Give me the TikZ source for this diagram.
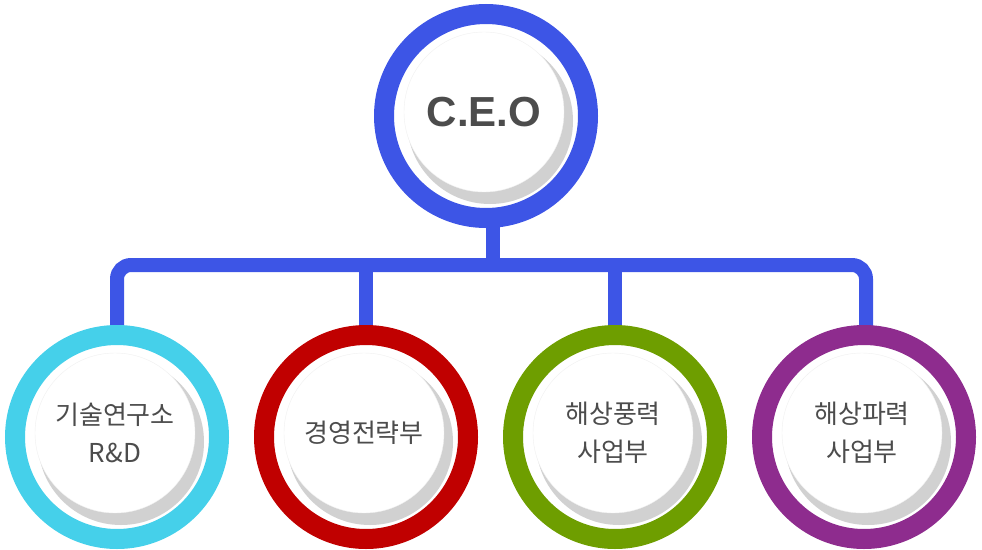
\documentclass[tikz,border=0pt]{standalone}
\usepackage{fontspec}
\setmainfont{Liberation Sans}
\newfontfamily\kr{Noto Sans CJK KR}
\tikzset{
 ring/.style={circle, line width=20pt, minimum size=204pt, fill=white, inner sep=0pt},
 shad/.style={circle, fill=black!18, minimum size=166pt, inner sep=0pt},
 inner/.style={circle, fill=white, draw=black!6, minimum size=160pt, inner sep=0pt, font=\kr\fontsize{26}{38}\selectfont, text=black!70, align=center},
 conn/.style={line width=14pt, draw=cblue, rounded corners=14pt}
}
\definecolor{cblue}{HTML}{3D55E6}
\definecolor{ccyan}{HTML}{45D0EA}
\definecolor{cred}{HTML}{C00000}
\definecolor{cgreen}{HTML}{6E9E00}
\definecolor{cpurple}{HTML}{8E2C8E}
\begin{document}
\begin{tikzpicture}[x=1pt,y=-1pt]
\useasboundingbox (0,0) rectangle (982,549);
\coordinate (hub) at (493,265);
\coordinate (l1) at (117,265);
\coordinate (l4) at (866,265);
\draw[conn] (493,200) -- (hub);
\draw[conn] (117,330) -- (l1) -- (l4) -- (866,330);
\draw[conn] (366,265) -- (366,330);
\draw[conn] (615,265) -- (615,330);
\foreach \n/\x/\y/\c in {ceo/486/116/cblue, a/117/437/ccyan, b/366/437/cred, c/615/437/cgreen, d/864/437/cpurple}{
 \node[ring, draw=\c] (\n) at (\x,\y) {};
 \node[shad] at (\x+4,\y+5) {};
}
\node[inner, font=\bfseries\fontsize{42}{42}\selectfont, text=black!70] (ceot) at (484,112) {C.E.O};
\node[inner] (at) at (115,433) {기술연구소\\R\&D};
\node[inner] (bt) at (364,433) {경영전략부};
\node[inner] (ct) at (613,433) {해상풍력\\사업부};
\node[inner] (dt) at (862,433) {해상파력\\사업부};
\end{tikzpicture}
\end{document}
